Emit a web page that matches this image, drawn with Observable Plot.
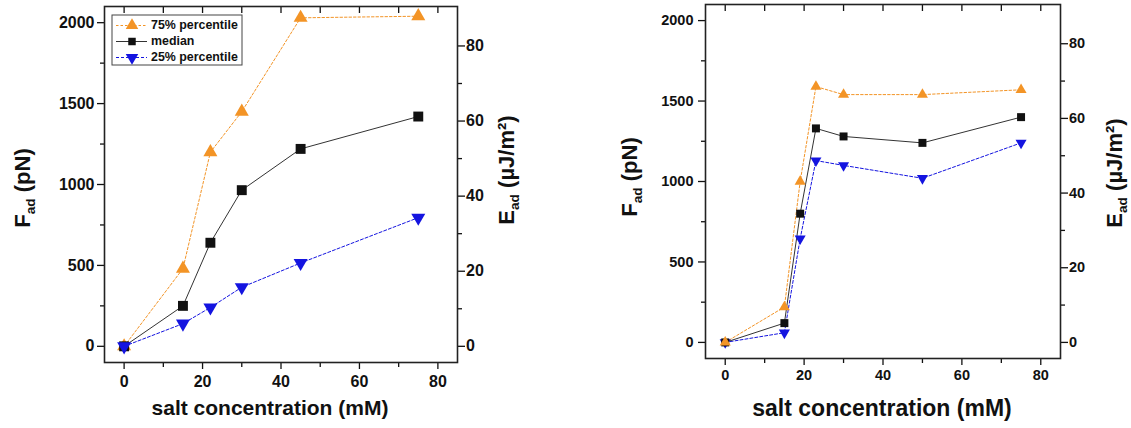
<!DOCTYPE html>
<html>
<head>
<meta charset="utf-8">
<script src="https://cdn.jsdelivr.net/npm/d3@7"></script>
<script src="https://cdn.jsdelivr.net/npm/@observablehq/plot@0.6"></script>
<style>
  html, body { margin: 0; padding: 0; background: #fff; }
  #wrap { position: relative; width: 1131px; height: 428px; overflow: hidden; }
  #left, #right { position: absolute; top: 0; }
  #left { left: 0; }
  #right { left: 560px; }
</style>
</head>
<body>
<div id="wrap"><div id="left"></div><div id="right"></div></div>
<script>
// ---- data ----
const seriesNames = ["75% percentile", "median", "25% percentile"];

// left panel
const saltA = [0, 15, 22, 30, 45, 75];
const p75A  = [0, 480, 1200, 1450, 2030, 2040];
const medA  = [0, 250, 640, 965, 1220, 1420];
const p25A  = [0, 140, 240, 365, 515, 795];

// right panel
const saltB = [0, 15, 19, 23, 30, 50, 75];
const p75B  = [0, 220, 1000, 1590, 1540, 1540, 1570];
const medB  = [0, 120, 800, 1330, 1280, 1240, 1400];
const p25B  = [0, 60, 645, 1130, 1100, 1020, 1240];

// axes
const xTicks = [0, 20, 40, 60, 80];
const xMinor = [10, 30, 50, 70];
const xAll   = [0, 10, 20, 30, 40, 50, 60, 70, 80];
const fTicks = [0, 500, 1000, 1500, 2000];
const fMinor = [250, 750, 1250, 1750];
const eTicks = [0, 20, 40, 60, 80];
const eMinor = [10, 30, 50, 70];
const E_PER_F = 0.0431; // µJ/m² per pN (secondary axis)

const xTitle = "salt concentration (mM)";

// ---- styling ----
const ORANGE = "#f39426";
const BLUE = "#1414e0";
const BLACK = "#111";
const FONT = "'Liberation Sans', Arial, Helvetica, sans-serif";

const sqrt3 = Math.sqrt(3);
const triangleDown = {
  draw(context, size) {
    const y = Math.sqrt(size / (sqrt3 * 3));
    context.moveTo(0, 2 * y);
    context.lineTo(-sqrt3 * y, -y);
    context.lineTo(sqrt3 * y, -y);
    context.closePath();
  }
};

function rows(salt, vals) { return salt.map((s, i) => ({salt: s, value: vals[i]})); }
const plain = d => String(d);

function panel(cfg) {
  const d75 = rows(cfg.salt, cfg.p75), dMed = rows(cfg.salt, cfg.med), d25 = rows(cfg.salt, cfg.p25);
  const series = {
    p75: [
      Plot.line(d75, {x: "salt", y: "value", stroke: ORANGE, strokeWidth: 1, strokeDasharray: "2.5,2"}),
      Plot.dot(d75, {x: "salt", y: "value", symbol: "triangle", r: cfg.triR, fill: ORANGE, stroke: "none"})
    ],
    med: [
      Plot.line(dMed, {x: "salt", y: "value", stroke: "#333", strokeWidth: 1}),
      Plot.dot(dMed, {x: "salt", y: "value", symbol: "square", r: cfg.sqR, fill: BLACK, stroke: "none"})
    ],
    p25: [
      Plot.line(d25, {x: "salt", y: "value", stroke: BLUE, strokeWidth: 1, strokeDasharray: "3,2"}),
      Plot.dot(d25, {x: "salt", y: "value", symbol: triangleDown, r: cfg.triR, fill: BLUE, stroke: "none"})
    ]
  };
  const lines = cfg.order.map(k => series[k][0]);
  const dots = cfg.order.map(k => series[k][1]);
  const chart = Plot.plot({
    width: cfg.width, height: cfg.height,
    marginLeft: cfg.mL, marginRight: cfg.mR, marginTop: cfg.mT, marginBottom: cfg.mB,
    style: {fontFamily: FONT, fontWeight: "bold", fontSize: cfg.tickFont + "px", color: "#111", background: "white", overflow: "visible"},
    x: {domain: [-5, 85]},
    y: {domain: [-100, 2100]},
    marks: [
      Plot.axisY(fTicks, {anchor: "left", tickSize: 7, tickPadding: cfg.yPad, tickFormat: plain, label: null, strokeWidth: 1.3}),
      Plot.axisY(fMinor, {anchor: "left", tickSize: 4, tickFormat: () => "", label: null, strokeWidth: 1.3}),
      Plot.axisY(eTicks.map(e => e / E_PER_F), {anchor: "right", tickSize: 7, tickPadding: 1.5, tickFormat: d => String(Math.round(d * E_PER_F)), label: null, strokeWidth: 1.3}),
      Plot.axisY(eMinor.map(e => e / E_PER_F), {anchor: "right", tickSize: 4, tickFormat: () => "", label: null, strokeWidth: 1.3}),
      Plot.axisX(xTicks, {anchor: "bottom", tickSize: 7, tickPadding: cfg.xPad, tickFormat: plain, label: null, strokeWidth: 1.3}),
      Plot.axisX(xMinor, {anchor: "bottom", tickSize: 5, tickFormat: () => "", label: null, strokeWidth: 1.3}),
      Plot.axisX(xAll, {anchor: "top", tickSize: -6, tickFormat: () => "", label: null, strokeWidth: 1.3}),
      ...lines,
      ...dots,
      Plot.frame({stroke: "#222", strokeWidth: 1.6})
    ]
  });
  const svg = d3.select(chart);

  // x title
  svg.append("text")
    .attr("x", cfg.xTitle[0]).attr("y", cfg.xTitle[1])
    .attr("text-anchor", "middle").attr("dominant-baseline", "middle")
    .style("font-size", cfg.titleFont + "px").style("font-weight", "bold").style("fill", "#111")
    .text(xTitle);

  // F_ad (pN)
  const f = svg.append("text")
    .attr("transform", `translate(${cfg.fTitle[0]},${cfg.fTitle[1]}) rotate(-90)`)
    .attr("text-anchor", "middle").attr("dominant-baseline", "middle")
    .style("font-size", cfg.yTitleFont + "px").style("font-weight", "bold").style("fill", "#111");
  f.append("tspan").text("F");
  f.append("tspan").attr("dy", cfg.yTitleFont * 0.3).style("font-size", (cfg.yTitleFont * 0.62) + "px").text("ad");
  f.append("tspan").attr("dy", -cfg.yTitleFont * 0.3).text(" (pN)");

  // E_ad (µJ/m²)
  const e = svg.append("text")
    .attr("transform", `translate(${cfg.eTitle[0]},${cfg.eTitle[1]}) rotate(-90)`)
    .attr("text-anchor", "middle").attr("dominant-baseline", "middle")
    .style("font-size", cfg.yTitleFont + "px").style("font-weight", "bold").style("fill", "#111");
  e.append("tspan").text("E");
  e.append("tspan").attr("dy", cfg.yTitleFont * 0.3).style("font-size", (cfg.yTitleFont * 0.62) + "px").text("ad");
  e.append("tspan").attr("dy", -cfg.yTitleFont * 0.3).text(" (\u00b5J/m\u00b2)");

  if (cfg.legend) {
    const [lx, ly, lw, lh] = cfg.legend;
    const g = svg.append("g");
    g.append("rect").attr("x", lx).attr("y", ly).attr("width", lw).attr("height", lh)
      .attr("fill", "white").attr("stroke", "#444").attr("stroke-width", 1);
    const items = [
      {name: seriesNames[0], color: ORANGE, dash: "2.5,2", sym: d3.symbolTriangle, lineColor: ORANGE},
      {name: seriesNames[1], color: BLACK, dash: null, sym: d3.symbolSquare, lineColor: "#333"},
      {name: seriesNames[2], color: BLUE, dash: "3,2", sym: triangleDown, lineColor: BLUE}
    ];
    items.forEach((it, i) => {
      const cy = ly + 10.5 + i * 16;
      g.append("line").attr("x1", lx + 4).attr("x2", lx + 35).attr("y1", cy).attr("y2", cy)
        .attr("stroke", it.lineColor).attr("stroke-width", 1).attr("stroke-dasharray", it.dash);
      g.append("path").attr("d", d3.symbol().type(it.sym).size(it.sym === d3.symbolSquare ? 56 : 68)())
        .attr("transform", `translate(${lx + 20},${cy})`).attr("fill", it.color);
      g.append("text").attr("x", lx + 39).attr("y", cy).attr("text-anchor", "start").attr("dominant-baseline", "middle")
        .style("font-size", cfg.legendFont + "px").style("font-weight", "bold").style("fill", "#111")
        .text(it.name);
    });
  }
  return chart;
}

document.getElementById("left").appendChild(panel({
  salt: saltA, p75: p75A, med: medA, p25: p25A,
  width: 560, height: 428, mL: 104, mR: 103, mT: 6, mB: 66,
  tickFont: 16, titleFont: 21, yTitleFont: 22, legendFont: 12.4,
  xPad: 6, yPad: 3,
  triR: 5.2, sqR: 5.6,
  order: ["p75", "med", "p25"],
  xTitle: [270, 409], fTitle: [24, 188], eTitle: [508, 170],
  legend: [112, 15, 130, 50]
}));

document.getElementById("right").appendChild(panel({
  salt: saltB, p75: p75B, med: medB, p25: p25B,
  width: 571, height: 428, mL: 145, mR: 71, mT: 4, mB: 70,
  tickFont: 14.5, titleFont: 23, yTitleFont: 22, legendFont: 13,
  xPad: 4, yPad: 5,
  triR: 4.1, sqR: 4.5,
  order: ["p25", "med", "p75"],
  xTitle: [322, 410], fTitle: [71, 177], eTitle: [556, 173],
  legend: null
}));
</script>
</body>
</html>
